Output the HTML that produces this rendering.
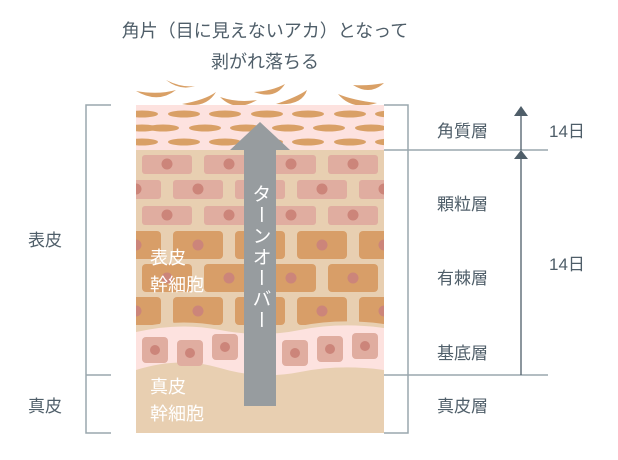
<!DOCTYPE html>
<html><head><meta charset="utf-8"><style>
html,body{margin:0;padding:0;background:#fff}
svg{display:block}
text{font-family:"Liberation Sans","Noto Sans CJK JP",sans-serif}
</style></head><body>
<svg width="618" height="460" viewBox="0 0 618 460" xmlns="http://www.w3.org/2000/svg">
<defs><clipPath id="c"><rect x="136" y="105" width="248" height="328"/></clipPath></defs>
<g fill="#4f5e69" font-size="18">
<text x="265" y="37" text-anchor="middle">角片（目に見えないアカ）となって</text>
<text x="265" y="68" text-anchor="middle">剥がれ落ちる</text>
</g>
<g fill="#d9a066">
<path d="M136 91 Q158 95 176 90 Q158 104 136 91Z"/>
<path d="M166 80 Q182 88 195 86 Q180 91 166 80Z"/>
<path d="M182 104 Q205 100 216 92 Q206 109 182 104Z"/>
<path d="M220 97 Q238 103 257 100 Q236 113 220 97Z"/>
<path d="M254 92 Q272 91 285 84 Q275 100 254 92Z"/>
<path d="M276 104 Q297 97 307 90 Q302 106 276 104Z"/>
<path d="M338 94 Q352 100 377 103 Q352 111 338 94Z"/>
<path d="M353 85 Q370 86 384 83 Q370 96 353 85Z"/>
</g>
<g clip-path="url(#c)">
<rect x="136" y="105" width="248" height="328" fill="#e8cfb1"/>
<rect x="136" y="105" width="248" height="45" fill="#fde2df"/>
<g fill="#d9a066">
<g id="er"><ellipse cx="142" cy="114" rx="16" ry="3.5"/><ellipse cx="184" cy="114" rx="16" ry="3.5"/><ellipse cx="225" cy="114" rx="16" ry="3.5"/><ellipse cx="267" cy="114" rx="16" ry="3.5"/><ellipse cx="308" cy="114" rx="16" ry="3.5"/><ellipse cx="350" cy="114" rx="16" ry="3.5"/><ellipse cx="391" cy="114" rx="16" ry="3.5"/></g>
<use href="#er" y="28"/>
<use href="#er" x="21" y="14"/>
<ellipse cx="142" cy="128" rx="16" ry="3.5"/>
</g>
<g fill="#e0ada0">
<g id="lr"><rect x="142" y="155" width="50" height="19" rx="3"/><rect x="204" y="155" width="50" height="19" rx="3"/><rect x="266" y="155" width="50" height="19" rx="3"/><rect x="328" y="155" width="50" height="19" rx="3"/></g>
<use href="#lr" y="51"/>
<g id="lr2"><rect x="111" y="180" width="50" height="19" rx="3"/><rect x="173" y="180" width="50" height="19" rx="3"/><rect x="235" y="180" width="50" height="19" rx="3"/><rect x="297" y="180" width="50" height="19" rx="3"/><rect x="359" y="180" width="50" height="19" rx="3"/></g>
</g>
<g fill="#cc857a">
<g id="ln"><circle cx="167" cy="164" r="5.5"/><circle cx="229" cy="164" r="5.5"/><circle cx="291" cy="164" r="5.5"/><circle cx="353" cy="164" r="5.5"/></g>
<use href="#ln" y="51"/>
<g id="ln2"><circle cx="136" cy="189" r="5.5"/><circle cx="198" cy="189" r="5.5"/><circle cx="260" cy="189" r="5.5"/><circle cx="322" cy="189" r="5.5"/><circle cx="384" cy="189" r="5.5"/></g>
</g>
<g fill="#d89e68">
<g id="or"><rect x="111" y="231" width="50" height="28" rx="4"/><rect x="173" y="231" width="50" height="28" rx="4"/><rect x="235" y="231" width="50" height="28" rx="4"/><rect x="297" y="231" width="50" height="28" rx="4"/><rect x="359" y="231" width="50" height="28" rx="4"/></g>
<use href="#or" y="66"/>
<rect x="142" y="264" width="50" height="28" rx="4"/><rect x="204" y="264" width="50" height="28" rx="4"/><rect x="266" y="264" width="50" height="28" rx="4"/><rect x="328" y="264" width="50" height="28" rx="4"/>
</g>
<g fill="#cc857a">
<g id="on"><circle cx="136" cy="245" r="5.5"/><circle cx="198" cy="245" r="5.5"/><circle cx="260" cy="245" r="5.5"/><circle cx="322" cy="245" r="5.5"/><circle cx="384" cy="245" r="5.5"/></g>
<use href="#on" y="66"/>
<circle cx="167" cy="278" r="5.5"/><circle cx="229" cy="278" r="5.5"/><circle cx="291" cy="278" r="5.5"/><circle cx="353" cy="278" r="5.5"/>
</g>
<path d="M136 328 Q180 318 220 326 T300 326 T384 324 L384 374 Q340 368 300 376 T220 372 T136 374Z" fill="#e8cfb1"/>
<path d="M136 332 Q180 322 220 330 T300 330 T384 328 L384 370 Q340 364 300 372 T220 368 T136 370Z" fill="#fde2df"/>
<g fill="#e0ada0">
<rect x="142" y="337" width="26" height="26" rx="4"/><rect x="177" y="340" width="26" height="26" rx="4"/><rect x="212" y="334" width="26" height="26" rx="4"/>
<rect x="282" y="340" width="26" height="26" rx="4"/><rect x="317" y="336" width="26" height="26" rx="4"/><rect x="352" y="333" width="26" height="26" rx="4"/>
</g>
<g fill="#cc857a">
<circle cx="155" cy="350" r="5"/><circle cx="190" cy="353" r="5"/><circle cx="225" cy="347" r="5"/>
<circle cx="295" cy="353" r="5"/><circle cx="330" cy="349" r="5"/><circle cx="365" cy="346" r="5"/>
</g>
</g>
<path d="M260 122 L290 150 L276 150 L276 406 L244 406 L244 150 L230 150Z" fill="#979c9f"/>
<text x="260" y="184" fill="#fff" font-size="19" letter-spacing="2" style="writing-mode:vertical-rl">ターンオーバー</text>
<g fill="#fff" font-size="18">
<text x="150" y="264">表皮</text><text x="150" y="291">幹細胞</text>
<text x="150" y="393">真皮</text><text x="150" y="420">幹細胞</text>
</g>
<g stroke="#9aa7ae" stroke-width="1.5" fill="none">
<path d="M111 105 H86 V433 H111 M86 375 H111"/>
<path d="M384 105 H408 V433 H384 M384 150 H548 M384 375 H548"/>
</g>
<g stroke="#4f5e69" stroke-width="1.3"><line x1="521" y1="110" x2="521" y2="150"/><line x1="521" y1="155" x2="521" y2="375"/></g>
<g fill="#4f5e69"><path d="M521 106 L528 116 L514 116Z"/><path d="M521 150 L528 159 L514 159Z"/></g>
<g fill="#4f5e69" font-size="17">
<text x="28" y="246">表皮</text><text x="28" y="412">真皮</text>
<text x="437" y="137">角質層</text><text x="437" y="210">顆粒層</text><text x="437" y="284">有棘層</text><text x="437" y="359">基底層</text><text x="437" y="412">真皮層</text>
<text x="549" y="137">14日</text><text x="549" y="270">14日</text>
</g>
</svg>
</body></html>
